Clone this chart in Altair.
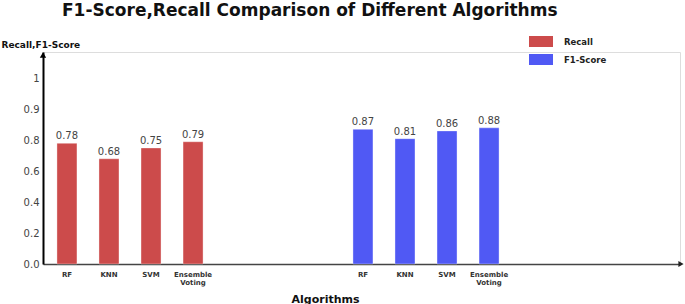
import altair as alt
import pandas as pd

# ---- data ----
algorithms = ["RF", "KNN", "SVM", "Ensemble Voting"]
metrics = ["Recall", "F1-Score"]
recall = [0.78, 0.68, 0.75, 0.79]
f1_score = [0.87, 0.81, 0.86, 0.88]
colors = ["#CC4B4B", "#5059F4"]
# y tick labels as printed on the reference axis (evenly spaced on the drawing)
y_tick_labels = ["0.0", "0.2", "0.4", "0.6", "0.8", "0.9", "1"]

rows = []
for m, vals in zip(metrics, [recall, f1_score]):
    for a, v in zip(algorithms, vals):
        rows.append({"metric": m, "algorithm": a, "value": v})
df = pd.DataFrame(rows)

# tick positions: labels are evenly spaced in the drawing
tick_pos = [round(0.2 * i, 2) for i in range(len(y_tick_labels))]
label_expr = " : ".join(
    [f"abs(datum.value - {p}) < 0.01 ? '{lab}'" for p, lab in zip(tick_pos, y_tick_labels)]
) + " : ''"

W, H = 637, 212

x_enc = alt.X(
    "metric:N",
    sort=metrics,
    scale=alt.Scale(domain=metrics, paddingInner=0.432, paddingOuter=0.292, align=0.017),
    axis=alt.Axis(
        labels=False, ticks=False, domainColor="#444444", domainWidth=1.5,
        title="Algorithms", titleFont="DejaVu Sans", titleFontSize=11, titleFontWeight="bold",
        titleColor="#111111", titleX=282, titleY=35, titleBaseline="middle", titleAnchor="start",
        titleAlign="center",
    ),
)
xo_enc = alt.XOffset(
    "algorithm:N", sort=algorithms,
    scale=alt.Scale(domain=algorithms, paddingInner=0.524, paddingOuter=0.262),
)
y_enc = alt.Y(
    "value:Q",
    scale=alt.Scale(domain=[0, 1.37], nice=False, zero=True),
    axis=alt.Axis(
        values=tick_pos, labelExpr=label_expr, ticks=False, grid=False,
        domainColor="#000000", domainWidth=2, labelFont="DejaVu Sans", labelFontSize=10,
        labelColor="#444444", labelPadding=4,
        title="Recall,F1-Score", titleAngle=0, titleAlign="left", titleBaseline="middle",
        titleX=-42, titleY=-8, titleFont="DejaVu Sans", titleFontSize=9, titleFontWeight="bold",
        titleColor="#111111",
    ),
)

base = alt.Chart(df)

bars = base.mark_bar(stroke="#ffffff", strokeOpacity=0.35, strokeWidth=1).encode(
    x=x_enc, xOffset=xo_enc, y=y_enc,
    color=alt.Color(
        "metric:N", sort=metrics,
        scale=alt.Scale(domain=metrics, range=colors),
        legend=alt.Legend(
            title=None, orient="none", legendX=486, legendY=-22.5,
            symbolType="M-1,-0.46H1V0.46H-1Z", symbolSize=576, symbolStrokeWidth=0,
            symbolOpacity=1, labelFont="DejaVu Sans", labelFontSize=8.5, labelFontWeight="bold",
            labelColor="#222222", rowPadding=-4, labelOffset=11,
        ),
    ),
)

value_labels = base.mark_text(
    baseline="alphabetic", dy=-4, font="DejaVu Sans", fontSize=10, color="#444444"
).encode(
    x=x_enc, xOffset=xo_enc, y=y_enc,
    text=alt.Text("value:Q", format=".2f"),
)

cat_labels = base.mark_text(
    baseline="middle", font="DejaVu Sans", fontSize=7, fontWeight="bold",
    color="#333333", lineBreak=" ", lineHeight=8.5,
).encode(
    x=x_enc, xOffset=xo_enc, y=alt.value(H + 10.5),
    text="algorithm:N",
)

arrow_up = alt.Chart(alt.Data(values=[{"a": 1}])).mark_point(
    shape="triangle-up", filled=True, size=40, color="#000000", opacity=1
).encode(x=alt.value(0), y=alt.value(3))

arrow_right = alt.Chart(alt.Data(values=[{"a": 1}])).mark_point(
    shape="triangle-right", filled=True, size=36, color="#222222", opacity=1
).encode(x=alt.value(W + 1), y=alt.value(H))

chart = alt.layer(bars, value_labels, cat_labels, arrow_up, arrow_right).properties(
    width=W, height=H,
    title=alt.TitleParams(
        "F1-Score,Recall Comparison of Different Algorithms",
        font="DejaVu Sans", fontSize=17, fontWeight="bold", color="#111111",
        anchor="start", frame="group", dx=19, offset=-3, baseline="alphabetic",
    ),
    autosize=alt.AutoSizeParams(type="none"),
    padding={"left": 43, "top": 52, "right": 5, "bottom": 40},
).configure_view(stroke=None).configure(background="#ffffff")

chart.save("out.html", embed_options={"renderer": "svg", "actions": False})
